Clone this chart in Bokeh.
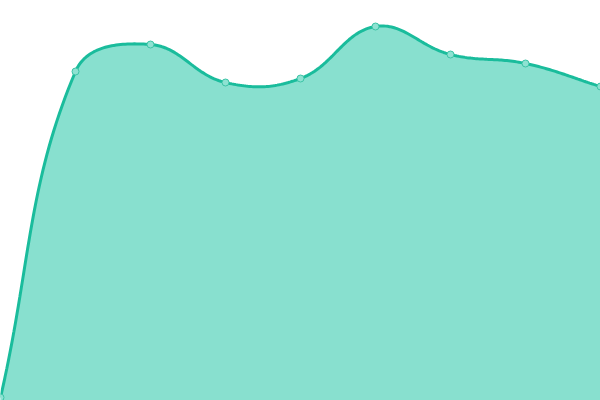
import numpy as np
from bokeh.plotting import figure
from bokeh.embed import file_html
from bokeh.resources import INLINE

# data
categories = list(range(9))
values = [3, 329, 356, 318, 322, 374, 346, 337, 314]

STEP = 75.0  # x spacing in plot units
TENSION = 0.4

xs = np.array(categories, dtype=float) * STEP
ys = np.array(values, dtype=float)

# Chart.js-style spline control points
n = len(xs)
cp_prev = np.zeros((n, 2))
cp_next = np.zeros((n, 2))
for i in range(n):
    cur = np.array([xs[i], ys[i]])
    prev = np.array([xs[i - 1], ys[i - 1]]) if i > 0 else cur
    nxt = np.array([xs[i + 1], ys[i + 1]]) if i < n - 1 else cur
    d01 = np.hypot(*(cur - prev))
    d12 = np.hypot(*(nxt - cur))
    tot = d01 + d12
    s01 = d01 / tot if tot else 0
    s12 = d12 / tot if tot else 0
    fa = TENSION * s01
    fb = TENSION * s12
    cp_prev[i] = cur - fa * (nxt - prev)
    cp_next[i] = cur + fb * (nxt - prev)

# sample beziers for the filled area
t = np.linspace(0, 1, 40)
px, py = [], []
for i in range(n - 1):
    p0 = np.array([xs[i], ys[i]])
    p1 = cp_next[i]
    p2 = cp_prev[i + 1]
    p3 = np.array([xs[i + 1], ys[i + 1]])
    for tt in t:
        pt = ((1 - tt) ** 3) * p0 + 3 * ((1 - tt) ** 2) * tt * p1 + 3 * (1 - tt) * tt ** 2 * p2 + tt ** 3 * p3
        px.append(pt[0]); py.append(pt[1])
px = np.array(px); py = np.array(py)

p = figure(width=600, height=400, output_backend="svg", toolbar_location=None,
           x_range=(0, 600), y_range=(0, 400), min_border=0)
p.axis.visible = False
p.grid.visible = False
p.outline_line_color = None
p.background_fill_color = "white"
p.border_fill_color = "white"

p.varea(x=px, y1=np.zeros_like(py), y2=py, fill_color="#88e0cf", fill_alpha=1.0)
p.line(px, py, line_color="#1abc9c", line_width=3)
p.scatter(xs, ys, size=7, fill_color="#8ee2d2", line_color="#3cc4a6", line_width=1)

open("out.html", "w").write(file_html(p, INLINE))
